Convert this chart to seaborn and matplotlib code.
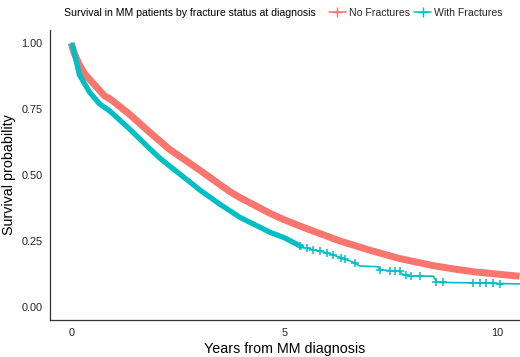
import numpy as np
import pandas as pd
import matplotlib
matplotlib.use('Agg')
import matplotlib.pyplot as plt
from matplotlib.lines import Line2D
import seaborn as sns

sns.set_style('white')
plt.rcParams['font.family'] = ['Liberation Sans', 'DejaVu Sans']

# survival curves (years, survival probability)
no_frac_t = [0, 0.05, 0.1, 0.2, 0.31, 0.5, 0.78, 0.9, 1.37, 1.84, 2.3, 3.0, 3.72, 3.95,
             4.66, 5.0, 5.5, 6.3, 7.0, 7.71, 8.5, 9.0, 9.5, 10.0, 10.52]
no_frac_s = [1.0, 0.97, 0.95, 0.915, 0.884, 0.85, 0.80, 0.79, 0.73, 0.662, 0.598, 0.52, 0.437,
             0.415, 0.355, 0.33, 0.298, 0.25, 0.215, 0.183, 0.156, 0.143, 0.132, 0.124, 0.116]

frac_t = [0, 0.05, 0.19, 0.43, 0.66, 0.9, 1.37, 1.84, 2.07, 2.3, 2.85, 3.0, 3.48, 3.95, 4.66,
          5.0, 5.43, 6.0, 6.3, 6.6, 6.77, 7.2, 7.24, 7.71, 7.75, 7.9, 8.5, 8.57, 8.7, 9.5, 10.0, 10.52]
frac_s = [1.0, 0.978, 0.88, 0.814, 0.77, 0.743, 0.674, 0.60, 0.565, 0.535, 0.465, 0.445, 0.39,
          0.34, 0.283, 0.262, 0.226, 0.205, 0.188, 0.17, 0.155, 0.152, 0.14, 0.135, 0.125, 0.118,
          0.116, 0.096, 0.0925, 0.0905, 0.0885, 0.087]

# censoring marks on the fracture curve after ~5 years
frac_censor = [5.36, 5.52, 5.67, 5.83, 5.99, 6.14, 6.34, 6.42, 6.65, 7.24, 7.47, 7.59,
               7.71, 7.86, 7.98, 8.18, 8.57, 8.72, 9.42, 9.58, 9.74, 9.89, 10.05]

red = '#F8766D'
teal = '#00BFC4'

df_no = pd.DataFrame({'t': no_frac_t, 's': no_frac_s})
df_fr = pd.DataFrame({'t': frac_t, 's': frac_s})
df_cens = pd.DataFrame({'t': frac_censor, 's': np.interp(frac_censor, frac_t, frac_s)})

fig = plt.figure(figsize=(5.2, 3.57), dpi=100)
ax = fig.add_axes([50 / 520, 1 - 320 / 357, 1 - 50 / 520, (320 - 30) / 357])

sns.lineplot(data=df_no, x='t', y='s', ax=ax, color=red, linewidth=5.0,
             solid_capstyle='butt', solid_joinstyle='round')
sns.lineplot(data=df_fr, x='t', y='s', ax=ax, color=teal, linewidth=1.2)
sns.lineplot(data=df_fr[df_fr['t'] <= 5.43], x='t', y='s', ax=ax, color=teal,
             linewidth=3.8, solid_capstyle='butt', solid_joinstyle='round')
sns.scatterplot(data=df_cens, x='t', y='s', ax=ax, color=teal, marker='+', s=40,
                linewidth=1.1, zorder=5)

ax.set_xlim(-0.5, 10.53)
ax.set_ylim(-0.05, 1.05)
ax.set_xticks([0, 5, 10])
ax.set_yticks([0, 0.25, 0.5, 0.75, 1.0])
ax.set_yticklabels(['0.00', '0.25', '0.50', '0.75', '1.00'])
ax.set_xlabel('Years from MM diagnosis', fontsize=10.3, color='black', labelpad=3)
ax.set_ylabel('Survival probability', fontsize=10.3, color='black', labelpad=4)

for side in ['top', 'right']:
    ax.spines[side].set_visible(False)
for side in ['left', 'bottom']:
    ax.spines[side].set_color('#333333')
    ax.spines[side].set_linewidth(0.9)
ax.tick_params(axis='both', direction='out', length=3.5, width=0.8, color='#333333',
               labelsize=7.8, labelcolor='#222222', pad=2)

fig.text(64 / 520, 1 - 13 / 357, 'Survival in MM patients by fracture status at diagnosis',
         fontsize=7.6, va='center', ha='left', color='black')
handles = [Line2D([], [], color=red, marker='+', markersize=7, linewidth=1.1),
           Line2D([], [], color=teal, marker='+', markersize=7, linewidth=1.1)]
fig.legend(handles, ['No Fractures', 'With Fractures'], ncol=2, frameon=False,
           loc='center left', bbox_to_anchor=(329 / 520, 1 - 13 / 357), fontsize=7.6,
           handlelength=1.6, handletextpad=0.3, columnspacing=0.4, borderpad=0,
           borderaxespad=0)

fig.savefig('out.png', dpi=100)
